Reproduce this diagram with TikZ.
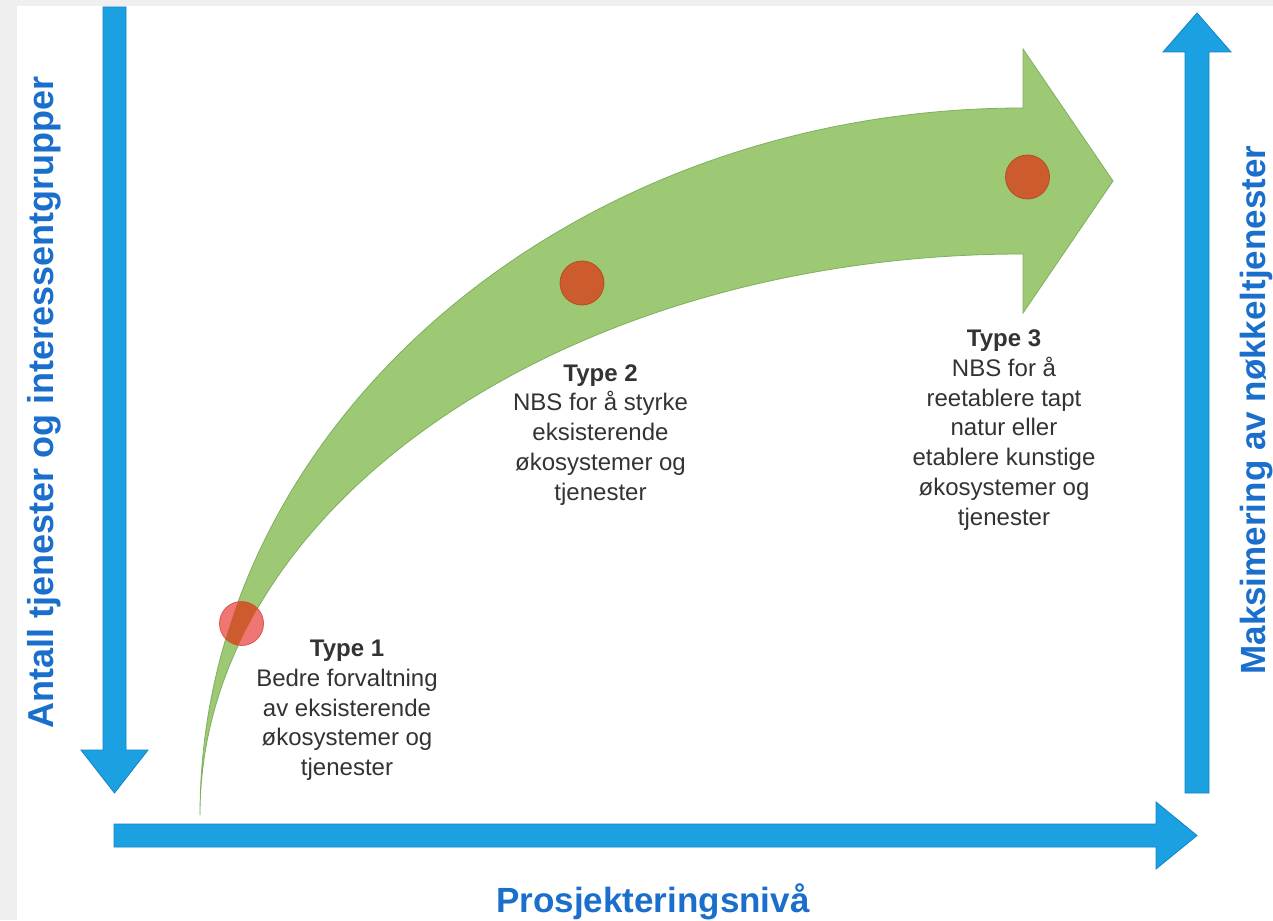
\documentclass[tikz,border=0pt]{standalone}
\usepackage{fontspec}
\setmainfont{Liberation Sans}
\definecolor{pagegray}{HTML}{EFEFEF}
\definecolor{axisblue}{HTML}{1BA1E2}
\definecolor{axisedge}{HTML}{1283C6}
\definecolor{labelblue}{HTML}{1A6ECC}
\definecolor{pathgreen}{HTML}{9DC874}
\definecolor{pathedge}{HTML}{7FB05E}
\definecolor{dotfill}{HTML}{CC5C2D}
\definecolor{dotedge}{HTML}{B44E26}
\definecolor{dotpink}{HTML}{EE6C68}
\definecolor{dotpinkedge}{HTML}{D9534F}
\definecolor{textgray}{HTML}{333333}
\begin{document}
\begin{tikzpicture}[x=1pt,y=-1pt,
  bluearrow/.style={fill=axisblue, draw=axisedge, line width=0.8pt, line join=miter},
  greenarrow/.style={fill=pathgreen, draw=pathedge, line width=0.8pt, line join=miter},
  stagedot/.style={circle, minimum size=44pt, inner sep=0pt, fill=dotfill, draw=dotedge, line width=0.8pt},
  stagetext/.style={align=center, inner sep=0pt, text=textgray, font=\fontsize{24}{29.7}\selectfont},
  axislabel/.style={inner sep=0pt, text=labelblue, font=\fontsize{35}{42}\selectfont\bfseries},
  sidelabel/.style={axislabel, rotate=90, anchor=base}]
\useasboundingbox (0,0) rectangle (1273,920);
% page frame
\fill[pagegray] (0,0) rectangle (1273,920);
\fill[white] (17,6) rectangle (1273,920);

% axes
\draw[bluearrow] (103,7) -- (126,7) -- (126,750) -- (148,750) -- (114.5,793) -- (81,750) -- (103,750) -- cycle;
\draw[bluearrow] (114,824) -- (1156,824) -- (1156,802) -- (1197,835.5) -- (1156,869) -- (1156,847) -- (114,847) -- cycle;
\draw[bluearrow] (1185,793) -- (1185,52) -- (1163,52) -- (1197,13) -- (1231,52) -- (1209,52) -- (1209,793) -- cycle;

% curved progression arrow
\def\greenshape{(200,815) .. controls (200,425) and (568,108) .. (1023,108) -- (1023,49) -- (1113,181) -- (1023,313) -- (1023,254) .. controls (568,254) and (200,505) .. (200,815) -- cycle}
\draw[greenarrow] \greenshape;

% stage markers
\node[stagedot, fill=dotpink, draw=dotpinkedge, fill opacity=0.92] (d1) at (241.5,623.5) {};
\begin{scope}
  \clip \greenshape;
  \fill[dotfill] (d1.center) circle[radius=22pt];
\end{scope}
\node[stagedot] (d2) at (582,283) {};
\node[stagedot] (d3) at (1027.5,177) {};

% stage descriptions (base anchor sits on the last line)
\node[stagetext, anchor=base] (t1) at (347,775.5) {\textbf{Type 1}\\Bedre forvaltning\\av eksisterende\\økosystemer og\\tjenester};
\node[stagetext, anchor=base] (t2) at (600.5,500) {\textbf{Type 2}\\NBS for å styrke\\eksisterende\\økosystemer og\\tjenester};
\node[stagetext, anchor=base] (t3) at (1004,525) {\textbf{Type 3}\\NBS for å\\reetablere tapt\\natur eller\\etablere kunstige\\økosystemer og\\tjenester};

% axis titles
\node[axislabel, anchor=base] (xlab) at (653,912) {Prosjekteringsnivå};
\node[sidelabel, font=\fontsize{36}{42}\selectfont\bfseries] (ylab) at (53,402.5) {Antall tjenester og interessentgrupper};
\node[sidelabel] (rlab) at (1265,410) {Maksimering av nøkkeltjenester};
\end{tikzpicture}
\end{document}
